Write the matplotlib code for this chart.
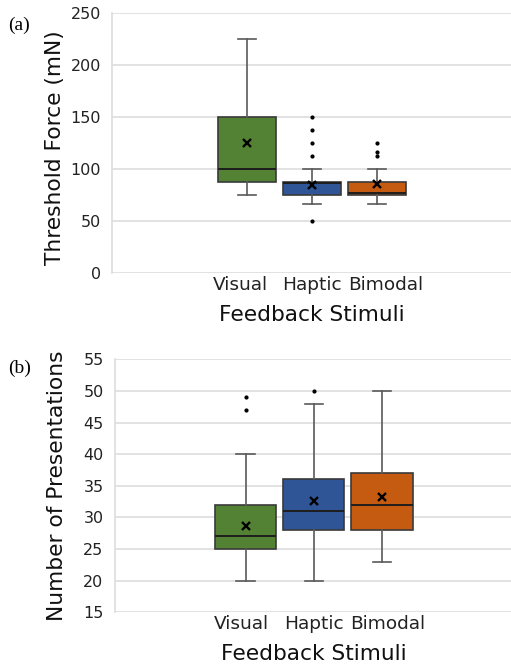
import matplotlib
matplotlib.use("Agg")
import matplotlib.pyplot as plt

plt.rcParams["font.family"] = "DejaVu Sans"

# categories
stimuli = ["Visual", "Haptic", "Bimodal"]
box_colors = ["#548235", "#2F5597", "#C55A11"]

# (a) threshold force (mN)
force_whislo = [75, 66.7, 66.7]
force_q1 = [87.5, 75, 75]
force_med = [100, 86.5, 76.5]
force_q3 = [150, 87.5, 87.5]
force_whishi = [225, 100, 100]
force_mean = [125, 84.5, 85.3]
force_fliers = [[], [50, 112.5, 125, 137.5, 150], [112.5, 116.7, 125]]

# (b) number of presentations
pres_whislo = [20, 20, 23]
pres_q1 = [25, 28, 28]
pres_med = [27, 31, 32]
pres_q3 = [32, 36, 37]
pres_whishi = [40, 48, 50]
pres_mean = [28.6, 32.6, 33.2]
pres_fliers = [[47, 49], [50], []]


def make_stats(whislo, q1, med, q3, whishi, mean, fliers):
    return [
        dict(label=stimuli[i], whislo=whislo[i], q1=q1[i], med=med[i],
             q3=q3[i], whishi=whishi[i], mean=mean[i], fliers=fliers[i])
        for i in range(len(stimuli))
    ]


def draw_panel(ax, stats, ylim, yticks, ylabel, xhalf, width, ylab_pos,
               label_shift):
    positions = [1, 2, 3]
    bp = ax.bxp(
        stats,
        positions=positions,
        widths=width,
        capwidths=0.27,
        patch_artist=True,
        showmeans=True,
        boxprops=dict(edgecolor="#3a3a3a", linewidth=1.2),
        medianprops=dict(color="#1e1e1e", linewidth=1.4),
        whiskerprops=dict(color="#5a5a5a", linewidth=1.2),
        capprops=dict(color="#5a5a5a", linewidth=1.2),
        meanprops=dict(marker="x", markeredgecolor="black", markersize=5.5,
                       markeredgewidth=1.7),
        flierprops=dict(marker="o", markerfacecolor="black",
                        markeredgecolor="black", markersize=2),
    )
    for patch, c in zip(bp["boxes"], box_colors):
        patch.set_facecolor(c)

    ax.set_xlim(2 - xhalf[0], 2 + xhalf[1])
    ax.set_ylim(*ylim)
    ax.set_yticks(yticks)
    # excel spreads the category labels a little wider than the boxes
    ax.set_xticks([p + s for p, s in zip(positions, label_shift)])
    ax.set_xticklabels(stimuli, fontsize=13.3, color="#222222")
    ax.tick_params(axis="y", labelsize=11.5, colors="#222222", length=0, pad=8)
    ax.tick_params(axis="x", length=0, pad=2)
    ax.grid(axis="y", color="#dddddd", linewidth=1.2)
    ax.set_axisbelow(True)
    for side in ["top", "right", "bottom"]:
        ax.spines[side].set_visible(False)
    ax.spines["left"].set_color("#dddddd")
    ax.spines["left"].set_linewidth(1.2)
    ax.set_ylabel(ylabel, fontsize=15.7, color="#111111")
    ax.yaxis.set_label_coords(*ylab_pos)
    ax.set_xlabel("Feedback Stimuli", fontsize=15.6, color="#111111",
                  labelpad=8)


fig = plt.figure(figsize=(5.11, 6.66), dpi=100)

ax1 = fig.add_axes([0.219, 0.590, 0.783, 0.3905])
draw_panel(ax1,
           make_stats(force_whislo, force_q1, force_med, force_q3,
                      force_whishi, force_mean, force_fliers),
           (0, 250), range(0, 251, 50), "Threshold Force (mN)",
           (3.08, 3.08), 0.89, (-0.1175, 0.483), (-0.1, 0, 0.14))

ax2 = fig.add_axes([0.2245, 0.0806, 0.7775, 0.380])
draw_panel(ax2,
           make_stats(pres_whislo, pres_q1, pres_med, pres_q3,
                      pres_whishi, pres_mean, pres_fliers),
           (15, 55), range(15, 56, 5), "Number of Presentations",
           (2.92, 2.91), 0.9, (-0.12, 0.5), (-0.06, 0.01, 0.09))

fig.text(0.016, 0.962, "(a)", fontsize=14, family="Liberation Serif",
         va="center", ha="left")
fig.text(0.016, 0.447, "(b)", fontsize=14, family="Liberation Serif",
         va="center", ha="left")

fig.savefig("out.png", dpi=100)
